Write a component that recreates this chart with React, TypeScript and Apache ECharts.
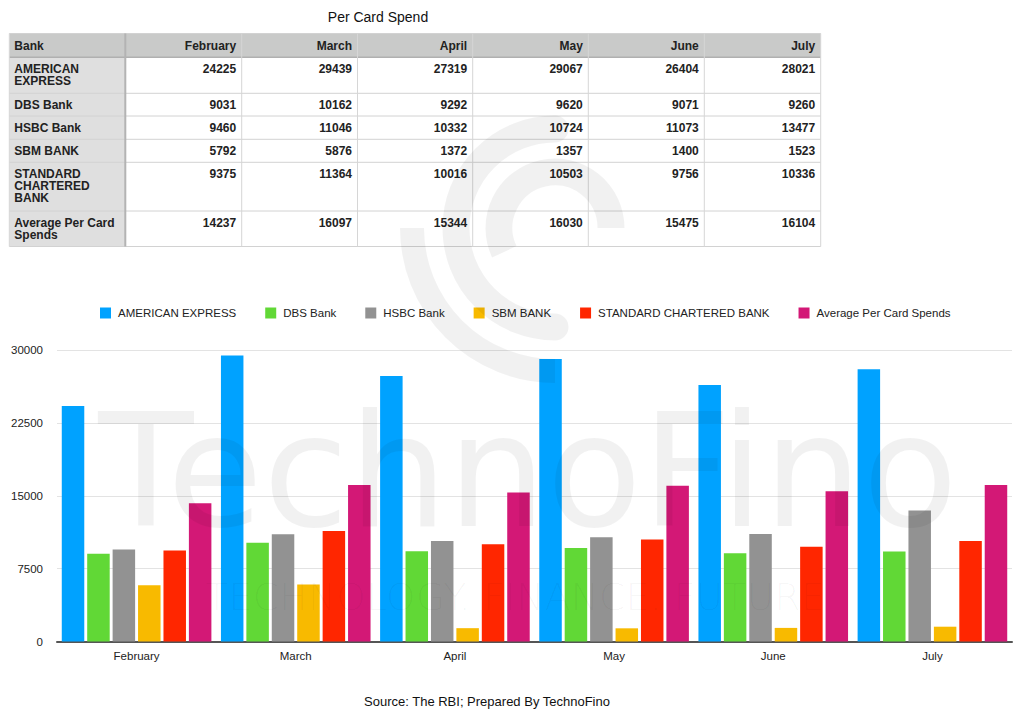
import React, { useEffect, useRef } from "react";
import * as echarts from "echarts";

const months = ["February", "March", "April", "May", "June", "July"];
const banks = [
  "AMERICAN EXPRESS",
  "DBS Bank",
  "HSBC Bank",
  "SBM BANK",
  "STANDARD CHARTERED BANK",
  "Average Per Card Spends",
];
const tableBankLabels = [
  "AMERICAN\nEXPRESS",
  "DBS Bank",
  "HSBC Bank",
  "SBM BANK",
  "STANDARD\nCHARTERED\nBANK",
  "Average Per Card\nSpends",
];
const amex = [24225, 29439, 27319, 29067, 26404, 28021];
const dbs = [9031, 10162, 9292, 9620, 9071, 9260];
const hsbc = [9460, 11046, 10332, 10724, 11073, 13477];
const sbm = [5792, 5876, 1372, 1357, 1400, 1523];
const sc = [9375, 11364, 10016, 10503, 9756, 10336];
const avg = [14237, 16097, 15344, 16030, 15475, 16104];
const seriesValues = [amex, dbs, hsbc, sbm, sc, avg];
const yTicks = [0, 7500, 15000, 22500, 30000];
const colors = ["#00a2ff", "#61d836", "#929292", "#f8ba00", "#ff2600", "#d31876"];

const FONT = "'Liberation Sans', Arial, Helvetica, sans-serif";

// table layout
const colX = [9.3, 125.3, 241.7, 357.5, 472.7, 588.3, 704.3, 820.7];
const rowY = [33.5, 57.3, 93.3, 116, 139.3, 162.3, 211, 246.5];

function buildTable(): any[] {
  const els: any[] = [];
  const left = colX[0];
  const right = colX[colX.length - 1];
  const top = rowY[0];
  const bottom = rowY[rowY.length - 1];
  els.push({
    type: "rect",
    shape: { x: left, y: top, width: right - left, height: rowY[1] - top },
    style: { fill: "#c9cac9" },
  });
  els.push({
    type: "rect",
    shape: { x: left, y: rowY[1], width: colX[1] - left, height: bottom - rowY[1] },
    style: { fill: "#dfdfdf" },
  });
  rowY.forEach((y, i) => {
    els.push({
      type: "line",
      shape: { x1: left, y1: y, x2: right, y2: y },
      style: { stroke: i === 1 ? "#b0b0b0" : "#d2d2d2", lineWidth: i === 1 ? 1.5 : 1 },
    });
  });
  colX.forEach((x, i) => {
    els.push({
      type: "line",
      shape: { x1: x, y1: top, x2: x, y2: bottom },
      style: { stroke: i === 1 ? "#b3b3b3" : "#d6d6d6", lineWidth: i === 1 ? 2 : 1 },
    });
  });
  const tstyle = (text: string, x: number, y: number, align: string) => ({
    type: "text",
    x,
    y,
    style: {
      text,
      fill: "#222",
      font: `bold 12px ${FONT}`,
      align,
      verticalAlign: "top",
      lineHeight: 12,
    },
  });
  els.push(tstyle("Bank", colX[0] + 5, rowY[0] + 6.5, "left"));
  months.forEach((m, j) => {
    els.push(tstyle(m, colX[j + 2] - 5.5, rowY[0] + 6.5, "right"));
  });
  tableBankLabels.forEach((b, i) => {
    els.push(tstyle(b, colX[0] + 5, rowY[i + 1] + 6, "left"));
    seriesValues[i].forEach((v, j) => {
      els.push(tstyle(String(v), colX[j + 2] - 5.5, rowY[i + 1] + 6, "right"));
    });
  });
  return els;
}

function buildWatermark(): any[] {
  const wm = "rgba(0,0,0,0.055)";
  const cx = 555;
  const cy = 228;
  const arc = (r: number, w: number, s: number, e: number, cap: string) => ({
    type: "arc",
    z: 100,
    silent: true,
    shape: { cx, cy, r, startAngle: s, endAngle: e, clockwise: true },
    style: { stroke: wm, lineWidth: w, fill: null, lineCap: cap },
  });
  return [
    arc(143, 24, Math.PI * 0.5, Math.PI * 1.0, "butt"),
    arc(99, 27, Math.PI * 0.5, Math.PI * 1.5, "round"),
    arc(56, 27, Math.PI * 0.86, Math.PI * 2.0, "butt"),
    {
      type: "text",
      z: 100,
      silent: true,
      x: 528,
      y: 550,
      style: {
        text: "TechnoFino",
        fill: wm,
        font: `normal 156px 'DejaVu Sans', sans-serif`,
        align: "center",
        verticalAlign: "bottom",
      },
    },
    {
      type: "text",
      z: 100,
      silent: true,
      x: 515,
      y: 616,
      style: {
        text: "TECHNOLOGY. FINANCE. FUTURE",
        fill: "rgba(0,0,0,0.035)",
        font: `200 38px 'DejaVu Sans', sans-serif`,
        align: "center",
        verticalAlign: "bottom",
      },
    },
  ];
}

export default function App() {
  const ref = useRef<HTMLDivElement>(null);
  useEffect(() => {
    if (!ref.current) return;
    const chart = echarts.init(ref.current, undefined, { renderer: "svg" });
    const option: any = {
      animation: false,
      backgroundColor: "#ffffff",
      color: colors,
      textStyle: { fontFamily: FONT },
      title: {
        text: "Per Card Spend",
        left: 378,
        top: 10,
        padding: 0,
        textAlign: "center",
        textStyle: { fontSize: 14, fontWeight: "normal", color: "#111", fontFamily: FONT },
      },
      legend: {
        left: 100,
        top: 307,
        padding: 0,
        itemWidth: 11,
        itemHeight: 11,
        itemGap: 29,
        icon: "rect",
        textStyle: { fontSize: 11.5, color: "#222", fontFamily: FONT, padding: [0, 0, 0, 2] },
        data: banks,
      },
      grid: { left: 57, right: 12, top: 350, bottom: 79.5, containLabel: false },
      xAxis: {
        type: "category",
        data: months,
        axisTick: { show: false },
        axisLine: { lineStyle: { color: "#555", width: 2 } },
        axisLabel: { fontSize: 11.5, color: "#222", margin: 8, fontFamily: FONT },
      },
      yAxis: {
        type: "value",
        min: yTicks[0],
        max: yTicks[yTicks.length - 1],
        interval: yTicks[1] - yTicks[0],
        axisLine: { show: false },
        axisTick: { show: false },
        splitLine: { lineStyle: { color: "#e3e3e3", width: 1 } },
        axisLabel: {
          fontSize: 11.5,
          color: "#222",
          margin: 14,
          fontFamily: FONT,
          formatter: (v: number) => String(v),
        },
      },
      series: banks.map((b, i) => ({
        name: b,
        type: "bar",
        data: seriesValues[i],
        barCategoryGap: "6%",
        barGap: "13%",
        itemStyle: { color: colors[i] },
      })),
      graphic: [
        ...buildTable(),
        {
          type: "text",
          x: 487,
          y: 701,
          style: {
            text: "Source: The RBI; Prepared By TechnoFino",
            fill: "#111",
            font: `13px ${FONT}`,
            align: "center",
            verticalAlign: "middle",
          },
        },
        ...buildWatermark(),
      ],
    };
    chart.setOption(option);
    return () => chart.dispose();
  }, []);
  return (
    <div
      ref={ref}
      style={{ position: "absolute", left: 0, top: 0, width: 1024, height: 721 }}
    />
  );
}
